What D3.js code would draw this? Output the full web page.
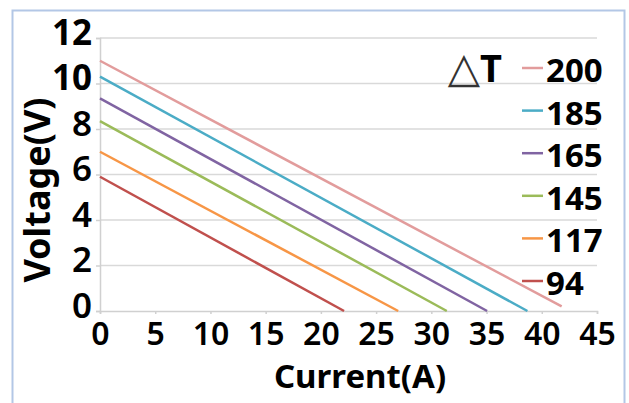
<!DOCTYPE html>
<html>
<head>
<meta charset="utf-8">
<script src="https://cdn.jsdelivr.net/npm/d3@7"></script>
<style>
  body { margin: 0; background: #fff; }
  svg { display: block; font-family: "Noto Sans", sans-serif; }
</style>
</head>
<body>
<svg width="629" height="403"></svg>
<script>
// ΔT series and their measured end points (current A, voltage V)
var deltaT = ["200", "185", "165", "145", "117", "94"];
var currentA = [[0, 41.8], [0, 38.7], [0, 35.05], [0, 31.4], [0, 27.0], [0, 22.1]];
var voltageV = [[11.0, 0.2], [10.3, 0], [9.35, 0], [8.35, 0], [7.0, 0], [5.9, 0]];

var xTicks = [0, 5, 10, 15, 20, 25, 30, 35, 40, 45];
var yTicks = [0, 2, 4, 6, 8, 10, 12];

var colors = ["#e29c9c", "#4bacc6", "#8064a2", "#9bbb59", "#f79646", "#c0504d"];

var margin = {top: 38, right: 32, bottom: 92, left: 100},
    width = 629 - margin.left - margin.right,
    height = 403 - margin.top - margin.bottom;

var svg = d3.select("svg");

// outer frame (bottom edge falls outside the picture)
svg.append("rect")
    .attr("x", 12.5).attr("y", 10.5)
    .attr("width", 612).attr("height", 420)
    .attr("fill", "none")
    .attr("stroke", "#b3c7e6")
    .attr("stroke-width", 2);

var g = svg.append("g")
    .attr("transform", "translate(" + margin.left + "," + margin.top + ")");

var x = d3.scaleLinear().domain([0, 45]).range([0, width]);
var y = d3.scaleLinear().domain([0, 12]).range([height, 0]);

// gridlines
g.append("g")
    .selectAll("line")
    .data(yTicks.filter(d => d > 0))
    .enter().append("line")
    .attr("x1", 0).attr("x2", width)
    .attr("y1", d => y(d)).attr("y2", d => y(d))
    .attr("stroke", "#d9d9d9")
    .attr("stroke-width", 1.5);

// y axis
var yAxis = g.append("g")
    .call(d3.axisLeft(y).tickValues(yTicks).tickSize(4).tickPadding(4));
yAxis.selectAll("path, line").attr("stroke", "#d0d0d0").attr("stroke-width", 1.5);
yAxis.selectAll("text")
    .attr("fill", "#000")
    .attr("dy", "0.32em")
    .attr("y", -5)
    .style("font-size", "35px")
    .style("font-weight", d => d >= 10 ? 700 : 600)
    .style("font-family", "Noto Sans");

// x axis
var xAxis = g.append("g")
    .attr("transform", "translate(0," + height + ")")
    .call(d3.axisBottom(x).tickValues(xTicks).tickSize(3).tickPadding(8));
xAxis.selectAll("path, line").attr("stroke", "#d0d0d0").attr("stroke-width", 1.5);
xAxis.selectAll("text")
    .attr("fill", "#000")
    .attr("dy", "0.71em")
    .style("font-size", "32px")
    .style("font-weight", 600)
    .style("font-family", "Noto Sans");

// lines
var line = d3.line()
    .x(d => x(d[0]))
    .y(d => y(d[1]));

deltaT.forEach(function(t, i) {
  var pts = currentA[i].map((c, j) => [c, voltageV[i][j]]);
  g.append("path")
      .datum(pts)
      .attr("d", line)
      .attr("fill", "none")
      .attr("stroke", colors[i])
      .attr("stroke-width", 2.5);
});

// axis titles
svg.append("text")
    .attr("transform", "translate(50,190) rotate(-90)")
    .attr("text-anchor", "middle")
    .style("font-size", "36px")
    .style("font-weight", 700)
    .text("Voltage(V)");

svg.append("text")
    .attr("x", 360).attr("y", 388)
    .attr("text-anchor", "middle")
    .style("font-size", "33px")
    .style("font-weight", 700)
    .text("Current(A)");

// legend title: outline triangle + bold T
var title = svg.append("text")
    .attr("x", 502).attr("y", 82)
    .attr("text-anchor", "end")
    .style("font-size", "38px");
title.append("tspan")
    .style("font-family", "DejaVu Sans")
    .style("font-weight", 400)
    .style("font-size", "42px")
    .attr("fill", "#333")
    .text("△");
title.append("tspan")
    .style("font-weight", 700)
    .text("T");

var legend = svg.append("g");
deltaT.forEach(function(t, i) {
  var cy = 70 + i * 42.6;
  legend.append("line")
      .attr("x1", 522).attr("x2", 543)
      .attr("y1", cy - 2).attr("y2", cy - 2)
      .attr("stroke", colors[i])
      .attr("stroke-width", 2.5);
  legend.append("text")
      .attr("x", 546).attr("y", cy + 12)
      .style("font-size", "33px")
      .style("font-weight", 700)
      .text(t);
});
</script>
</body>
</html>
